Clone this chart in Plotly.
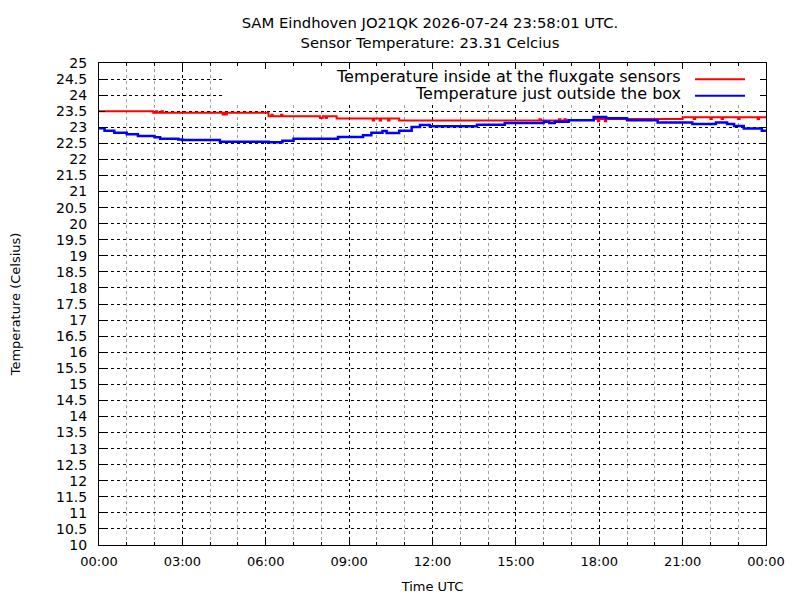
"""SAM Eindhoven: daily temperature plot (gnuplot look) rebuilt with Plotly."""
from datetime import datetime, timedelta

import plotly.graph_objects as go

DAY = datetime(2026, 7, 24)

TITLE_LINES = [
    "SAM Eindhoven JO21QK 2026-07-24 23:58:01 UTC.",
    "Sensor Temperature: 23.31 Celcius",
]
NAME_INSIDE = "Temperature inside at the fluxgate sensors"
NAME_OUTSIDE = "Temperature just outside the box"

# step change points (hour of day, degC)
hours_inside = [
    0.0, 1.95, 2.05, 2.10, 2.25, 2.30, 4.45, 4.50, 4.55, 4.60, 6.10, 6.20,
    6.25, 6.55, 6.60, 7.95, 8.05, 8.15, 8.20, 8.55, 9.85, 9.90, 10.10, 10.15,
    10.40, 10.45, 10.80, 15.85, 15.90, 16.55, 16.60, 16.75, 16.80, 16.90,
    17.80, 17.95, 18.00, 18.20, 18.25, 21.00, 21.40, 21.45, 22.00, 22.05,
    22.40, 22.45, 23.00, 23.05, 23.70, 23.75, 24.0,
]
temp_inside = [
    23.50, 23.45, 23.50, 23.45, 23.50, 23.45, 23.40, 23.45, 23.40, 23.45,
    23.34, 23.39, 23.34, 23.39, 23.34, 23.29, 23.34, 23.29, 23.34, 23.27,
    23.21, 23.27, 23.21, 23.27, 23.21, 23.27, 23.21, 23.25, 23.21, 23.25,
    23.21, 23.25, 23.21, 23.23, 23.26, 23.19, 23.26, 23.19, 23.26, 23.31,
    23.26, 23.31, 23.26, 23.31, 23.26, 23.31, 23.26, 23.31, 23.26, 23.31,
    23.31,
]

hours_outside = [
    0.0, 0.20, 0.55, 1.00, 1.40, 2.00, 2.20, 2.85, 3.00, 4.35, 6.10, 6.60,
    7.00, 8.60, 9.50, 9.80, 10.20, 10.35, 10.80, 11.25, 11.55, 11.90, 13.60,
    14.60, 16.00, 16.20, 16.40, 16.90, 17.80, 18.25, 19.00, 20.10, 21.35,
    22.20, 22.60, 22.85, 23.20, 23.85, 24.0,
]
temp_outside = [
    22.97, 22.89, 22.83, 22.78, 22.73, 22.69, 22.64, 22.62, 22.60, 22.55,
    22.53, 22.58, 22.64, 22.70, 22.75, 22.83, 22.88, 22.82, 22.89, 23.01,
    23.07, 23.03, 23.08, 23.13, 23.17, 23.13, 23.17, 23.22, 23.32, 23.28,
    23.22, 23.15, 23.10, 23.15, 23.10, 23.04, 22.96, 22.89, 22.89,
]

y_ticks = [10 + 0.5 * i for i in range(31)]
y_tick_labels = [f"{v:g}" for v in y_ticks]

FONT = "DejaVu Sans"


def _times(hours):
    return [DAY + timedelta(hours=h) for h in hours]


fig = go.Figure()
fig.add_trace(go.Scatter(
    x=_times(hours_inside), y=temp_inside, name=NAME_INSIDE,
    mode="lines", line=dict(color="#ff0000", width=2, shape="hv"),
))
fig.add_trace(go.Scatter(
    x=_times(hours_outside), y=temp_outside, name=NAME_OUTSIDE,
    mode="lines", line=dict(color="#0000ff", width=2.5, shape="hv"),
))

# gnuplot-style key: opaque box over the grid (kept clear of the border
# ticks), text right-aligned with the sample after it
fig.add_shape(type="rect", xref="paper", yref="paper",
              x0=0.1844, x1=0.991, y0=0.917, y1=0.9875,
              fillcolor="white", line=dict(width=0), layer="above")
for name, color, ypos, ysample in [
    (NAME_INSIDE, "#ff0000", 0.971, 0.9665),
    (NAME_OUTSIDE, "#0000ff", 0.936, 0.932),
]:
    fig.add_annotation(text=name, xref="paper", yref="paper", x=0.8756,
                       y=ypos, xanchor="right", yanchor="middle",
                       showarrow=False, font=dict(size=16, color="black"))
    fig.add_shape(type="line", xref="paper", yref="paper",
                  x0=0.8936, x1=0.9685, y0=ysample, y1=ysample,
                  line=dict(color=color, width=2), layer="above")

# the page puts the 800x600 figure 8px in from the top-left corner,
# so the margins are set to land the plot box at 99..766 x 63..545
fig.update_layout(
    width=800, height=600,
    margin=dict(l=91, r=42, t=55, b=63),
    paper_bgcolor="white", plot_bgcolor="white",
    font=dict(family=FONT, color="black", size=13),
    showlegend=False,
    title=dict(text="<br>".join(TITLE_LINES), x=0.5275, xanchor="center",
               y=0.966, yanchor="middle", yref="container",
               font=dict(size=14.8)),
)

fig.update_xaxes(
    type="date",
    range=[DAY, DAY + timedelta(days=1)],
    dtick=3 * 3600 * 1000, tick0=DAY, tickformat="%H:%M",
    ticks="inside", ticklen=6, tickcolor="black",
    showline=True, linecolor="black", linewidth=1, mirror="allticks",
    showgrid=True, gridcolor="black", griddash="dot", gridwidth=1,
    minor=dict(dtick=3600 * 1000, showgrid=True, gridcolor="#a0a0a0",
               griddash="dot", ticks="inside", ticklen=3, tickcolor="black"),
    tickfont=dict(size=13), ticklabelstandoff=4,
    title=dict(text="Time UTC", font=dict(size=13), standoff=14),
    zeroline=False, automargin=False,
)
fig.update_yaxes(
    range=[10, 25],
    tickvals=y_ticks, ticktext=y_tick_labels,
    ticks="inside", ticklen=6, tickcolor="black",
    showline=True, linecolor="black", linewidth=1, mirror="allticks",
    showgrid=True, gridcolor="black", griddash="dot", gridwidth=1,
    tickfont=dict(size=14), ticklabelstandoff=8,
    title=dict(text="Temperature (Celsius)", font=dict(size=13), standoff=33),
    zeroline=False, automargin=False,
)

fig.write_html("out.html")
